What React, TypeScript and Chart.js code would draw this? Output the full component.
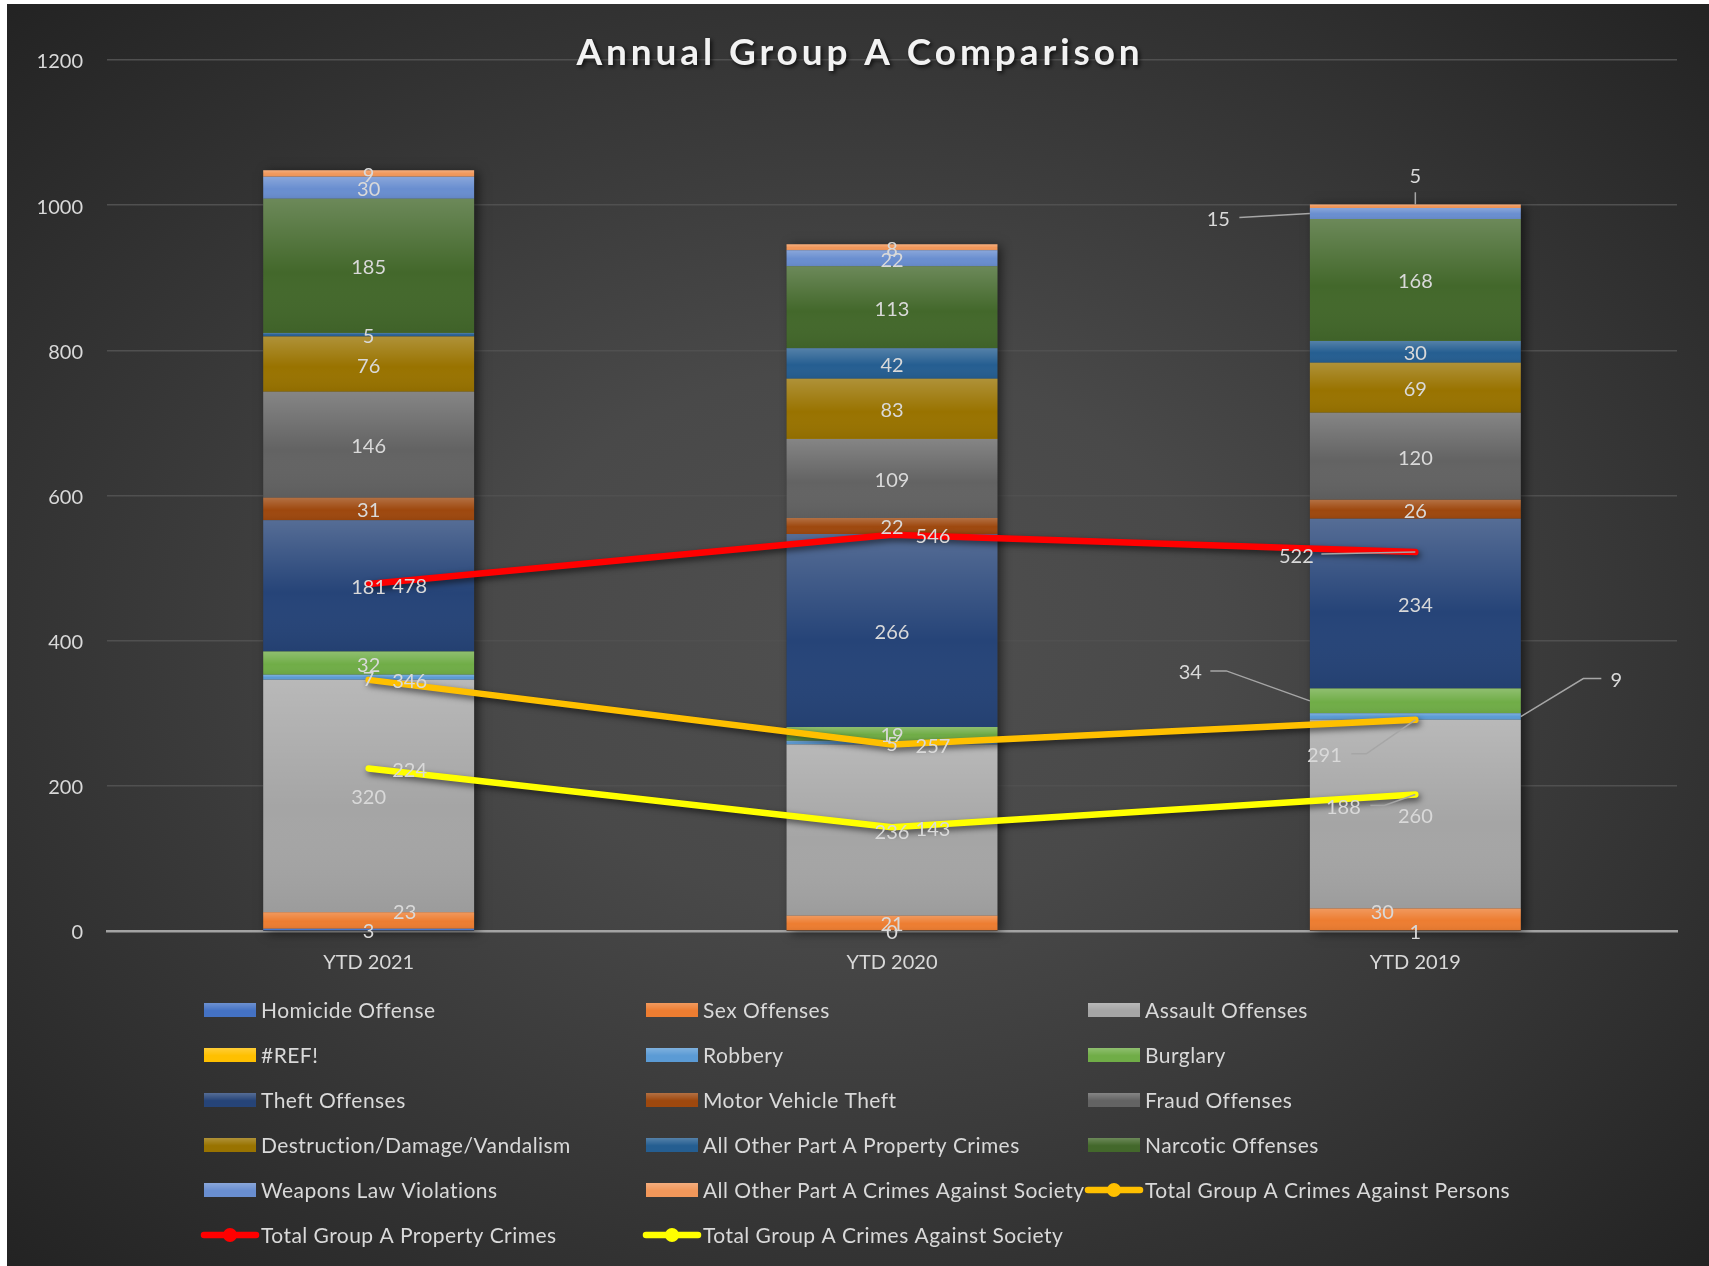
import React, { useEffect, useRef } from 'react';
import { Chart, registerables } from 'chart.js';

Chart.register(...registerables);

// ---------- data ----------
const categories = ['YTD 2021', 'YTD 2020', 'YTD 2019'];
const homicide = [3, 0, 1];
const sexOffenses = [23, 21, 30];
const assault = [320, 236, 260];
const refError = [null, null, null];
const robbery = [7, 5, 9];
const burglary = [32, 19, 34];
const theft = [181, 266, 234];
const motorVehicleTheft = [31, 22, 26];
const fraud = [146, 109, 120];
const destruction = [76, 83, 69];
const otherProperty = [5, 42, 30];
const narcotic = [185, 113, 168];
const weapons = [30, 22, 15];
const otherSociety = [9, 8, 5];
const totalPersons = [346, 257, 291];
const totalProperty = [478, 546, 522];
const totalSociety = [224, 143, 188];
const yMin = 0;
const yMax = 1200;
const yStep = 200;
const title = 'Annual Group A Comparison';

// ---------- styling ----------
const W = 1702;
const H = 1262;
const FONT = 'Lato, "Open Sans", sans-serif';
const TEXT = '#d9d9d9';

const barSeries = [
  { label: 'Homicide Offense', data: homicide, color: '#4472C4' },
  { label: 'Sex Offenses', data: sexOffenses, color: '#ED7D31' },
  { label: 'Assault Offenses', data: assault, color: '#A5A5A5' },
  { label: '#REF!', data: refError, color: '#FFC000' },
  { label: 'Robbery', data: robbery, color: '#5B9BD5' },
  { label: 'Burglary', data: burglary, color: '#70AD47' },
  { label: 'Theft Offenses', data: theft, color: '#264478' },
  { label: 'Motor Vehicle Theft', data: motorVehicleTheft, color: '#9E480E' },
  { label: 'Fraud Offenses', data: fraud, color: '#636363' },
  { label: 'Destruction/Damage/Vandalism', data: destruction, color: '#997300' },
  { label: 'All Other Part A Property Crimes', data: otherProperty, color: '#255E91' },
  { label: 'Narcotic Offenses', data: narcotic, color: '#43682B' },
  { label: 'Weapons Law Violations', data: weapons, color: '#698ED0' },
  { label: 'All Other Part A Crimes Against Society', data: otherSociety, color: '#F1975A' },
];

const lineSeries = [
  { label: 'Total Group A Crimes Against Persons', data: totalPersons, color: '#FFC000' },
  { label: 'Total Group A Property Crimes', data: totalProperty, color: '#FF0000' },
  { label: 'Total Group A Crimes Against Society', data: totalSociety, color: '#FFFF00' },
];

type Leader = { pts: number[][]; end: 'left' | 'right' | 'top' | 'center' };
type Tweak = { dx: number; dy: number; leader?: Leader };

const lineRight: Tweak = { dx: 41, dy: 0 };
const labelTweaks: Record<string, Record<number, Tweak>> = {
  'Sex Offenses': { 0: { dx: 36, dy: -10 }, 2: { dx: -33, dy: -9 } },
  Robbery: { 2: { dx: 201, dy: -38, leader: { pts: [[-15, 0], [-33, 0]], end: 'right' } } },
  Burglary: { 2: { dx: -225, dy: -30, leader: { pts: [[20, 0], [36, 0]], end: 'left' } } },
  'Weapons Law Violations': { 2: { dx: -197, dy: 4, leader: { pts: [[21, 0]], end: 'left' } } },
  'All Other Part A Crimes Against Society': {
    2: { dx: 0, dy: -32, leader: { pts: [[0, 18]], end: 'top' } },
  },
  'Total Group A Crimes Against Persons': {
    0: lineRight,
    1: lineRight,
    2: { dx: -91, dy: 34, leader: { pts: [[27, 0], [42, 0]], end: 'center' } },
  },
  'Total Group A Property Crimes': {
    0: lineRight,
    1: lineRight,
    2: { dx: -119, dy: 2, leader: { pts: [[25, 0]], end: 'center' } },
  },
  'Total Group A Crimes Against Society': {
    0: lineRight,
    1: lineRight,
    2: { dx: -72, dy: 11, leader: { pts: [[27, 0], [41, 0]], end: 'center' } },
  },
};

const bgPlugin = {
  id: 'bgPlugin',
  beforeDraw(chart: any) {
    const ctx = chart.ctx as CanvasRenderingContext2D;
    ctx.save();
    const cx = W / 2;
    const cy = H / 2;
    ctx.translate(cx, cy);
    ctx.scale(1, H / W);
    const r = (W / 2) * 1.414;
    const g = ctx.createRadialGradient(0, 0, 0, 0, 0, r);
    g.addColorStop(0, '#4f4f4f');
    g.addColorStop(0.3, '#494949');
    g.addColorStop(1, '#232323');
    ctx.fillStyle = g;
    ctx.fillRect(-cx, -cx, W, W);
    ctx.restore();
  },
  beforeDatasetsDraw(chart: any) {
    const ctx = chart.ctx as CanvasRenderingContext2D;
    const metas = chart.getSortedVisibleDatasetMetas().filter((m: any) => m.type === 'bar');
    for (let i = 0; i < categories.length; i++) {
      let top = Infinity;
      let bottom = -Infinity;
      let x = 0;
      let w = 0;
      metas.forEach((m: any) => {
        const el = m.data[i];
        if (!el) return;
        const p = el.getProps(['x', 'y', 'base', 'width'], true);
        if (!isFinite(p.y) || !isFinite(p.base)) return;
        top = Math.min(top, p.y, p.base);
        bottom = Math.max(bottom, p.y, p.base);
        x = p.x;
        w = p.width;
      });
      if (!isFinite(top)) continue;
      ctx.save();
      ctx.shadowColor = 'rgba(0,0,0,0.55)';
      ctx.shadowBlur = 10;
      ctx.shadowOffsetX = 4;
      ctx.shadowOffsetY = 2;
      ctx.fillStyle = '#3a3a3a';
      ctx.fillRect(x - w / 2, top, w, bottom - top);
      ctx.restore();
    }
  },
  beforeDatasetDraw(chart: any, args: any) {
    if (args.meta.type !== 'line') return;
    const ctx = chart.ctx as CanvasRenderingContext2D;
    ctx.save();
    ctx.shadowColor = 'rgba(0,0,0,0.6)';
    ctx.shadowBlur = 6;
    ctx.shadowOffsetX = 2;
    ctx.shadowOffsetY = 3;
  },
  afterDatasetDraw(chart: any, args: any) {
    const ctx = chart.ctx as CanvasRenderingContext2D;
    if (args.meta.type === 'line') {
      ctx.restore();
      return;
    }
    args.meta.data.forEach((el: any) => {
      const p = el.getProps(['x', 'y', 'base', 'width'], true);
      if (!isFinite(p.y) || !isFinite(p.base)) return;
      const top = Math.min(p.y, p.base);
      const h = Math.abs(p.base - p.y);
      if (h < 1) return;
      const g = ctx.createLinearGradient(0, top, 0, top + h);
      g.addColorStop(0, 'rgba(255,255,255,0.22)');
      g.addColorStop(0.55, 'rgba(255,255,255,0)');
      g.addColorStop(1, 'rgba(0,0,0,0.06)');
      ctx.fillStyle = g;
      ctx.fillRect(p.x - p.width / 2, top, p.width, h);
    });
  },
};

const labelPlugin = {
  id: 'labelPlugin',
  afterDatasetsDraw(chart: any) {
    const ctx = chart.ctx as CanvasRenderingContext2D;
    ctx.save();
    ctx.font = `20px ${FONT}`;
    ctx.textAlign = 'center';
    ctx.textBaseline = 'middle';
    chart.data.datasets.forEach((ds: any, di: number) => {
      const meta = chart.getDatasetMeta(di);
      const isLine = meta.type === 'line';
      ds.data.forEach((v: any, i: number) => {
        if (v === null || v === undefined) return;
        const el = meta.data[i];
        const p = el.getProps(['x', 'y', 'base', 'width'], true);
        const ax = p.x;
        const ay = isLine ? p.y : (p.y + p.base) / 2;
        const tw = (labelTweaks[ds.label] || {})[i];
        const lx = ax + (tw ? tw.dx : 0);
        const ly = ay + (tw ? tw.dy : 0);
        if (tw && tw.leader) {
          let ex = ax;
          let ey = ay;
          if (tw.leader.end === 'left') ex = p.x - p.width / 2;
          if (tw.leader.end === 'right') ex = p.x + p.width / 2;
          if (tw.leader.end === 'top') ey = Math.min(p.y, p.base);
          ctx.save();
          ctx.strokeStyle = '#a6a6a6';
          ctx.lineWidth = 1.5;
          ctx.beginPath();
          tw.leader.pts.forEach((pt, k) => {
            if (k === 0) ctx.moveTo(lx + pt[0], ly + pt[1]);
            else ctx.lineTo(lx + pt[0], ly + pt[1]);
          });
          ctx.lineTo(ex, ey);
          ctx.stroke();
          ctx.restore();
        }
        ctx.fillStyle = TEXT;
        ctx.fillText(String(v), lx, ly + 2);
      });
    });
    ctx.restore();
  },
};

const legendPlugin = {
  id: 'legendPlugin',
  afterDraw(chart: any) {
    const ctx = chart.ctx as CanvasRenderingContext2D;
    // title
    ctx.save();
    ctx.font = `bold 37px ${FONT}`;
    (ctx as any).letterSpacing = '3.9px';
    ctx.textAlign = 'center';
    ctx.textBaseline = 'middle';
    ctx.shadowColor = 'rgba(0,0,0,0.75)';
    ctx.shadowBlur = 4;
    ctx.shadowOffsetX = 2;
    ctx.shadowOffsetY = 2;
    ctx.fillStyle = '#f2f2f2';
    ctx.fillText(title, W / 2 + 2, 49);
    ctx.restore();

    // legend
    const items = [
      ...barSeries.map((s) => ({ label: s.label, color: s.color, kind: 'box' })),
      ...lineSeries.map((s) => ({ label: s.label, color: s.color, kind: 'line' })),
    ];
    const colX = [197, 639, 1081];
    const row0 = 1006;
    const rowGap = 45;
    ctx.save();
    ctx.font = `21px ${FONT}`;
    (ctx as any).letterSpacing = '0.45px';
    ctx.textAlign = 'left';
    ctx.textBaseline = 'middle';
    items.forEach((it, idx) => {
      const x = colX[idx % 3];
      const y = row0 + Math.floor(idx / 3) * rowGap;
      if (it.kind === 'box') {
        ctx.fillStyle = it.color;
        ctx.fillRect(x, y - 7, 52, 14);
        const g = ctx.createLinearGradient(0, y - 7, 0, y + 7);
        g.addColorStop(0, 'rgba(255,255,255,0.22)');
        g.addColorStop(0.55, 'rgba(255,255,255,0)');
        ctx.fillStyle = g;
        ctx.fillRect(x, y - 7, 52, 14);
      } else {
        ctx.strokeStyle = it.color;
        ctx.lineWidth = 6.5;
        ctx.lineCap = 'round';
        ctx.beginPath();
        ctx.moveTo(x, y);
        ctx.lineTo(x + 52, y);
        ctx.stroke();
        ctx.fillStyle = it.color;
        ctx.beginPath();
        ctx.arc(x + 26, y, 7, 0, Math.PI * 2);
        ctx.fill();
      }
      ctx.fillStyle = TEXT;
      ctx.fillText(it.label, x + 57, y + 1);
    });
    ctx.restore();
  },
};

export default function App() {
  const ref = useRef<HTMLCanvasElement>(null);
  useEffect(() => {
    const canvas = ref.current;
    if (!canvas) return;
    const datasets: any[] = [
      ...barSeries.map((s) => ({
        type: 'bar',
        label: s.label,
        data: s.data,
        backgroundColor: s.color,
        borderWidth: 0,
        stack: 'bars',
        barPercentage: 0.403,
        categoryPercentage: 1,
        order: 1,
      })),
      ...lineSeries.map((s, k) => ({
        type: 'line',
        label: s.label,
        data: s.data,
        borderColor: s.color,
        backgroundColor: s.color,
        borderWidth: 6.5,
        borderCapStyle: 'round',
        borderJoinStyle: 'round',
        pointRadius: 0,
        fill: false,
        tension: 0,
        stack: 'line' + k,
        order: 0,
      })),
    ];
    const chart = new Chart(canvas, {
      type: 'bar',
      data: { labels: categories, datasets },
      options: {
        responsive: false,
        animation: false,
        devicePixelRatio: 1,
        layout: { padding: { top: 56, right: 32, left: 0, bottom: 0 } },
        plugins: {
          legend: { display: false },
          tooltip: { enabled: false },
          title: { display: false },
        },
        scales: {
          x: {
            stacked: true,
            grid: { display: false, drawTicks: false },
            border: { display: true, color: '#a3a3a3', width: 2.5 },
            ticks: { color: TEXT, font: { family: FONT, size: 20 }, padding: 20 },
            afterFit(s: any) {
              s.height = H - 927;
            },
          },
          y: {
            stacked: true,
            min: yMin,
            max: yMax,
            ticks: {
              stepSize: yStep,
              color: TEXT,
              font: { family: FONT, size: 20 },
              padding: 24,
              labelOffset: 2,
              callback: (v: any) => String(v),
            },
            grid: {
              color: (c: any) => (c.tick && c.tick.value === 0 ? 'rgba(0,0,0,0)' : '#505050'),
              lineWidth: 1.5,
              drawTicks: false,
            },
            border: { display: false },
            afterFit(s: any) {
              s.width = 100;
            },
          },
        },
      } as any,
      plugins: [bgPlugin, labelPlugin, legendPlugin],
    });
    return () => chart.destroy();
  }, []);
  return (
    <div style={{ position: 'absolute', left: 7, top: 4, width: W, height: H }}>
      <canvas ref={ref} width={W} height={H} style={{ width: W, height: H, display: 'block' }} />
    </div>
  );
}
